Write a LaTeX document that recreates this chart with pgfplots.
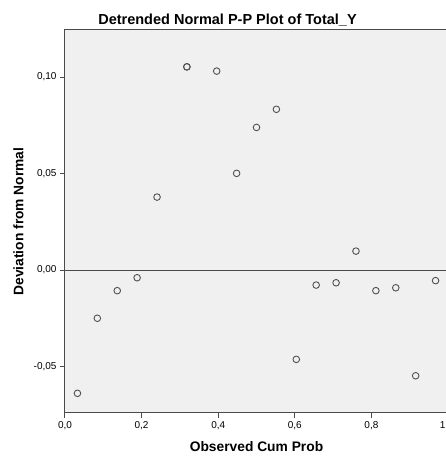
\documentclass[border=0pt]{standalone}
\usepackage{pgfplots}
\pgfplotsset{compat=1.18}
\usepackage{fontspec}
\setmainfont{Liberation Sans}
\definecolor{plotbg}{HTML}{F0F0F0}
\definecolor{framec}{HTML}{4A4A4A}
\definecolor{markc}{HTML}{505050}
\begin{document}
\begin{tikzpicture}[x=1pt,y=1pt]
\begin{axis}[
    at={(0,0)}, anchor=south west,
    scale only axis, width=383pt, height=383pt,
    xmin=0, xmax=1, ymin=-0.0741, ymax=0.1244,
    axis background/.style={fill=plotbg},
    axis line style={framec, line width=1pt},
    tick style={framec, line width=1pt},
    tick align=outside, tick pos=left,
    major tick length=5pt,
    xtick={0,0.2,0.4,0.6,0.8,1},
    xticklabels={{0,0},{0,2},{0,4},{0,6},{0,8},{\makebox[0pt][r]{1\hspace{2.5pt}}}},
    ytick={-0.05,0,0.05,0.10},
    yticklabels={{-0,05},{0,00},{0,05},{0,10}},
    ticklabel style={font=\fontsize{10}{12}\selectfont},
    xlabel={Observed Cum Prob},
    ylabel={Deviation from Normal},
    label style={font=\bfseries\fontsize{13.8}{16}\selectfont},
    xlabel style={at={(rel axis cs:0.5,0)}, anchor=center, yshift=-34pt},
    ylabel style={at={(rel axis cs:0,0.5)}, anchor=center, yshift=46.5pt},
]
% Nulllinie
\draw[framec, line width=1pt] (axis cs:0,0) -- (axis cs:1,0);
\addplot[only marks, mark=o, mark size=3.3pt, mark options={draw=markc, line width=0.9pt}] table {
x y
0.0325 -0.0639
0.0844 -0.0250
0.1364 -0.0107
0.1883 -0.0040
0.2403 0.0378
0.3182 0.1053
0.3182 0.1053
0.3961 0.1031
0.4481 0.0501
0.5000 0.0739
0.5519 0.0833
0.6039 -0.0463
0.6558 -0.0078
0.7078 -0.0066
0.7597 0.0098
0.8117 -0.0107
0.8636 -0.0092
0.9156 -0.0548
0.9675 -0.0055
};
\end{axis}
\node[anchor=base, font=\bfseries\fontsize{14.5}{17}\selectfont] at (162.5,388) {Detrended Normal P-P Plot of Total\_Y};
\pgfresetboundingbox
\path[use as bounding box] (-65,-44) rectangle (381,413);
\end{tikzpicture}
\end{document}
